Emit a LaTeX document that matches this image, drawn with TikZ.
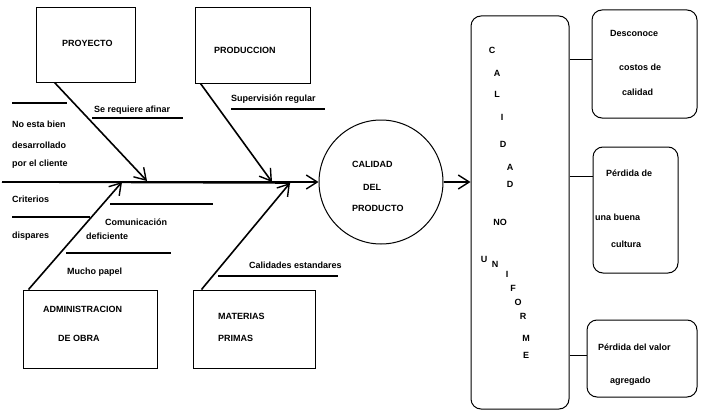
\documentclass[tikz,border=0pt]{standalone}
\usepackage{fontspec}
\setmainfont{Liberation Sans}
\usetikzlibrary{arrows.meta,calc}
\begin{document}
\begin{tikzpicture}[x=1pt,y=-1pt,
  txt/.style={font=\fontsize{9}{10}\selectfont\bfseries, inner sep=0pt, anchor=west},
  letter/.style={font=\fontsize{9}{10}\selectfont\bfseries, inner sep=0pt},
  causebox/.style={draw, line width=1pt, inner sep=0pt},
  roundbox/.style={draw, line width=1pt, inner sep=0pt, rounded corners=10pt},
  bone/.style={line width=1.6pt, -{Straight Barb[length=11pt,width=14pt,line width=1.4pt]}},
  link/.style={line width=1pt},
  uline/.style={line width=1.1pt}
]
\useasboundingbox (0,0) rectangle (701,412);

% cause boxes
\node[causebox, minimum width=99pt, minimum height=74pt] (proj) at (85.5,45) {};
\node[causebox, minimum width=115pt, minimum height=75pt] (prod) at (252.5,45.5) {};
\node[causebox, minimum width=134pt, minimum height=78pt] (adm) at (90,329) {};
\node[causebox, minimum width=122pt, minimum height=78pt] (mat) at (254,329) {};

\node[txt] (tproj) at (62,43) {PROYECTO};
\node[txt] (tprod) at (214,50) {PRODUCCION};
\node[txt] (tadm1) at (43,309) {ADMINISTRACION};
\node[txt] (tadm2) at (58,338) {DE OBRA};
\node[txt] (tmat1) at (218,316) {MATERIAS};
\node[txt] (tmat2) at (218,338) {PRIMAS};

% effect
\node[draw, circle, line width=1pt, minimum size=124pt, inner sep=0pt] (eff) at (381,182) {};
\node[txt] (e1) at (352,164) {CALIDAD};
\node[txt] (e2) at (363,187) {DEL};
\node[txt] (e3) at (352,208) {PRODUCTO};

% spine and bones
\coordinate (tail) at (2,182);
\coordinate (h1) at (147,181);
\coordinate (h2) at (122,182);
\coordinate (h3) at (272,182);
\coordinate (h4) at (290,183);
\draw[line width=1.6pt] (tail) -- (h4);
\draw[bone] (tail) -- (eff.west);
\draw[bone] ($(proj.south west)+(19,0)$) -- (h1);
\draw[bone] ($(adm.north west)+(6,0)$) -- (h2);
\draw[bone] ($(prod.south west)+(6,0)$) -- (h3);
\draw[bone] ($(mat.north west)+(9,0)$) -- (h4);

% sub-cause labels and their rules
\draw[uline] (12,103) -- (67,103);
\draw[uline] (92,118) -- (183,118);
\draw[uline] (231,109) -- (325,109);
\draw[uline] (12,217) -- (90,217);
\draw[uline] (110,204) -- (213,204);
\draw[uline] (66,253) -- (171,253);
\draw[uline] (218,276) -- (338,276);

\node[txt] (s1) at (94,110) {Se requiere afinar};
\node[txt] (s2) at (231,99) {Supervisión regular};
\node[txt] (s3) at (12,124) {No esta bien};
\node[txt] (s4) at (12,145) {desarrollado};
\node[txt] (s5) at (12,164) {por el cliente};
\node[txt] (s6) at (12,199) {Criterios};
\node[txt] (s7) at (105,222) {Comunicación};
\node[txt] (s8) at (12,236) {dispares};
\node[txt] (s9) at (86,236) {deficiente};
\node[txt] (s10) at (67,272) {Mucho papel};
\node[txt] (s11) at (249,265) {Calidades estandares};

% consequence column
\node[roundbox, minimum width=98pt, minimum height=393pt] (col) at (520,212.5) {};
\draw[bone] (eff.east) -- (eff.east -| col.west);
\foreach \ch/\x/\y [count=\i] in {C/492/50, A/497/73, L/497/94, I/502/117, D/503/144,
    A/510/167, D/510/184, NO/500/222, U/484/259, N/495/264, I/507/274, F/513/288,
    O/518/302, R/523/316, M/526/338, E/526/355}
  \node[letter] (q\i) at (\x,\y) {\ch};

% consequences
\node[roundbox, minimum width=105pt, minimum height=108pt] (c1) at (644.5,64) {};
\node[roundbox, minimum width=85pt, minimum height=126pt] (c2) at (635.5,210) {};
\node[roundbox, minimum width=110pt, minimum height=77pt] (c3) at (642,358.5) {};

\coordinate (k1) at ($(c1.north west)+(0,50)$);
\coordinate (k2) at ($(c2.north west)+(0,30)$);
\coordinate (k3) at ($(c3.north west)+(0,36)$);
\draw[link] (k1 -| col.east) -- (k1);
\draw[link] (k2 -| col.east) -- (k2);
\draw[link] (k3 -| col.east) -- (k3);

\node[txt] (r1) at (610,33) {Desconoce};
\node[txt] (r2) at (619,67) {costos de};
\node[txt] (r3) at (622,92) {calidad};
\node[txt] (r4) at (606,173) {Pérdida de};
\node[txt] (r5) at (595,217) {una buena};
\node[txt] (r6) at (611,244) {cultura};
\node[txt] (r7) at (598,347) {Pérdida del valor};
\node[txt] (r8) at (610,381) {agregado};
\end{tikzpicture}
\end{document}
